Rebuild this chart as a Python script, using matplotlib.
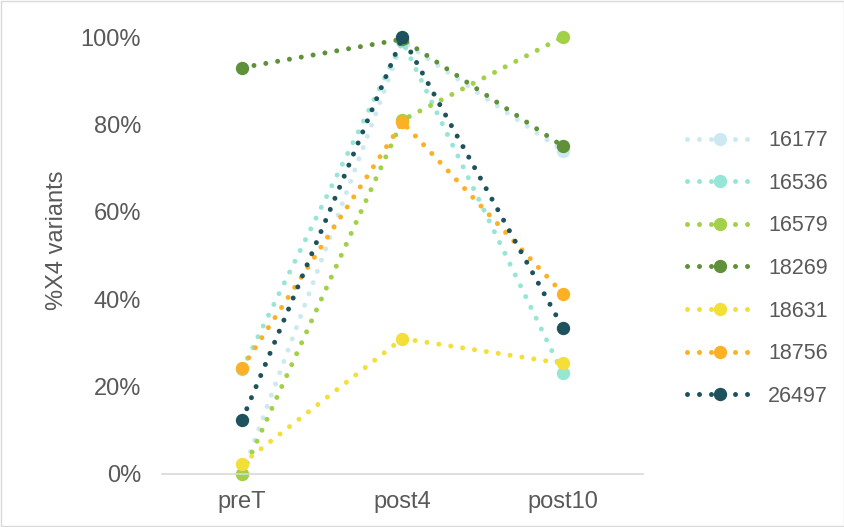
import matplotlib.pyplot as plt
from matplotlib.patches import Rectangle
from matplotlib.ticker import PercentFormatter

plt.rcParams["font.family"] = ["Liberation Sans", "DejaVu Sans"]

timepoints = ["preT", "post4", "post10"]
samples = ["16177", "16536", "16579", "18269", "18631", "18756", "26497"]
pct_16177 = [0.0, 99.0, 74.0]
pct_16536 = [24.0, 99.0, 23.0]
pct_16579 = [0.0, 81.0, 100.0]
pct_18269 = [93.0, 99.5, 75.0]
pct_18631 = [2.4, 31.0, 25.3]
pct_18756 = [24.3, 80.5, 41.3]
pct_26497 = [12.4, 100.0, 33.5]
series = [pct_16177, pct_16536, pct_16579, pct_18269, pct_18631, pct_18756, pct_26497]
colors = ["#cce9f2", "#96e6d6", "#a2d049", "#5e9139", "#f3df38", "#fcb023", "#1e525c"]

fig = plt.figure(figsize=(8.45, 5.27), dpi=100)
ax = fig.add_axes([162 / 845, 53 / 527, 481 / 845, 437 / 527])

x = range(len(timepoints))
for name, vals, c in zip(samples, series, colors):
    ax.plot(x, vals, color=c, lw=3.6, linestyle=(0, (0.001, 2.4)),
            dash_capstyle="round", marker="o", markersize=9.6,
            markeredgewidth=0, label=name, clip_on=False)

ax.set_xlim(-0.5, 2.5)
ax.set_ylim(0, 100)
ax.set_yticks(range(0, 101, 20))
ax.yaxis.set_major_formatter(PercentFormatter(decimals=0))
ax.set_xticks(list(x))
ax.set_xticklabels(timepoints)
ax.tick_params(length=0, labelsize=17, colors="#595959")
ax.tick_params(axis="y", pad=15)
ax.tick_params(axis="x", pad=12)
for side in ["left", "right", "top"]:
    ax.spines[side].set_visible(False)
ax.spines["bottom"].set_color("#d9d9d9")
ax.spines["bottom"].set_linewidth(1.2)
ax.set_ylabel("%X4 variants", fontsize=17, color="#595959")
ax.yaxis.set_label_coords(-0.195, 0.535)

leg = fig.legend(loc="center left", bbox_to_anchor=(668 / 845, 0.4905),
                 frameon=False, fontsize=15.5, handlelength=3.0,
                 labelspacing=1.0, handletextpad=0.75)
for t in leg.get_texts():
    t.set_color("#595959")

fig.patches.append(Rectangle((0.001, 0.001), 0.998, 0.997, transform=fig.transFigure,
                             fill=False, edgecolor="#d9d9d9", lw=1))

fig.savefig("out.png", dpi=100)
